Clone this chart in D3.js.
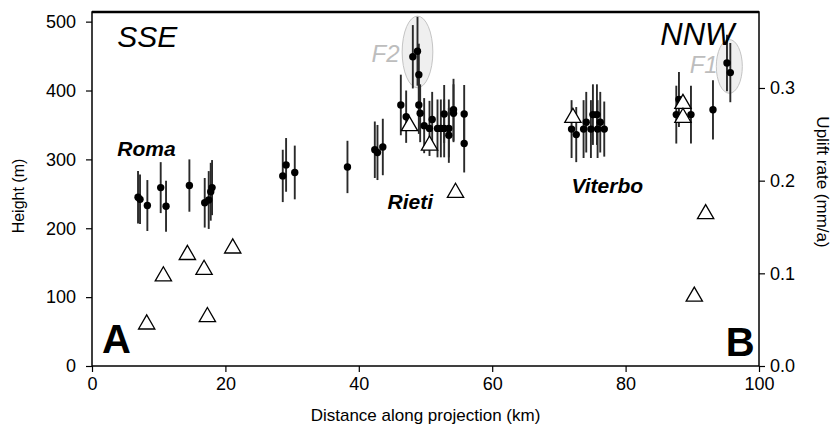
<!DOCTYPE html>
<head>
  <title>Height and uplift rate along projection</title>
  <meta charset="utf-8">
  <script src="https://cdn.jsdelivr.net/npm/d3@7"></script>
  <style>
    body { margin: 0; background: #fff; }
    text { font-family: "Liberation Sans", Arial, Helvetica, sans-serif; }
  </style>
</head>

<body>
  <script>
    // terrace heights: distance (km), height (m), half error bar (m)
    var dotKm = [6.9, 7.2, 8.3, 10.3, 11.1, 14.6, 16.9, 17.5, 17.8, 18.0,
                 28.6, 29.1, 30.4, 38.3, 42.4, 42.8, 43.6,
                 46.3, 47.1, 48.1, 48.8, 49.0, 49.0, 49.2, 49.8, 50.6, 51.0,
                 51.8, 52.3, 52.8, 53.5, 53.5, 52.8, 54.2, 54.2, 55.8, 55.8,
                 71.9, 72.6, 73.7, 74.1, 74.8, 75.1, 75.7, 75.8, 76.2, 76.8,
                 87.6, 88.0, 89.8, 93.1, 95.2, 95.7];
    var dotHeight = [245, 242, 233, 259, 232, 262, 237, 241, 253, 259,
                     276, 292, 281, 289, 314, 310, 318,
                     379, 362, 449, 457, 423, 379, 367, 349, 345, 358,
                     345, 345, 345, 345, 335, 366, 372, 367, 366, 323,
                     344, 336, 344, 354, 344, 365, 365, 344, 354, 344,
                     365, 387, 365, 372, 440, 426];
    var dotErr = [38, 36, 37, 37, 37, 38, 36, 42, 42, 40,
                  38, 39, 39, 38, 41, 40, 41,
                  44, 38, 46, 50, 45, 42, 42, 40, 40, 40,
                  42, 42, 42, 42, 40, 42, 45, 42, 42, 42,
                  42, 40, 42, 44, 42, 44, 44, 42, 44, 40,
                  42, 40, 42, 43, 41, 43];

    // uplift rates: distance (km), rate (mm/a)
    var triKm = [8.2, 10.7, 14.3, 16.8, 17.3, 21.1, 47.6, 50.6, 54.5, 72.1, 88.6, 88.6, 90.3, 92.0];
    var triRate = [0.045, 0.097, 0.120, 0.104, 0.053, 0.127, 0.259, 0.238, 0.187, 0.268, 0.283, 0.268, 0.075, 0.164];

    var xTicks = [0, 20, 40, 60, 80, 100];
    var yTicks = [0, 100, 200, 300, 400, 500];
    var rateTicks = [0, 0.1, 0.2, 0.3];

    var width = 831, height = 432;
    var margin = {top: 12, right: 72, bottom: 66, left: 92};

    var svg = d3.select("body")
      .append("svg")
      .attr("width", width)
      .attr("height", height);

    var x = d3.scaleLinear().domain([0, 100]).range([margin.left, width - margin.right]);
    var y = d3.scaleLinear().domain([0, 514]).range([height - margin.bottom, margin.top]);
    var yRate = d3.scaleLinear().domain([0, 0.382]).range([height - margin.bottom, margin.top]);

    // shaded ellipses F2 and F1
    var ellipses = [[48.8, 456, 2.3, 52], [95.55, 435, 1.95, 39]];
    svg.selectAll("ellipse")
      .data(ellipses)
      .enter()
      .append("ellipse")
      .attr("cx", function(d) { return x(d[0]); })
      .attr("cy", function(d) { return y(d[1]); })
      .attr("rx", function(d) { return x(d[2]) - x(0); })
      .attr("ry", function(d) { return y(0) - y(d[3]); })
      .attr("fill", "#efefef")
      .attr("stroke", "#c4c4c4")
      .attr("stroke-width", 1);

    // axes
    var bottom = svg.append("g").attr("transform", "translate(0," + (height - margin.bottom) + ")");
    bottom.call(d3.axisBottom(x).tickValues(d3.range(0, 101, 5)).tickFormat("").tickSize(5).tickSizeOuter(0));
    bottom.call(d3.axisBottom(x).tickValues(xTicks).tickSize(6).tickSizeOuter(0).tickPadding(5));

    var left = svg.append("g").attr("transform", "translate(" + margin.left + ",0)");
    left.call(d3.axisLeft(y).tickValues(d3.range(0, 501, 20)).tickFormat("").tickSize(5).tickSizeOuter(0));
    left.call(d3.axisLeft(y).tickValues(yTicks).tickSize(6).tickSizeOuter(0).tickPadding(10));

    var right = svg.append("g").attr("transform", "translate(" + (width - margin.right) + ",0)");
    right.call(d3.axisRight(yRate).tickValues(d3.range(0, 0.381, 0.02)).tickFormat("").tickSize(5).tickSizeOuter(0));
    right.call(d3.axisRight(yRate).tickValues(rateTicks).tickFormat(d3.format(".1f")).tickSize(6).tickSizeOuter(0).tickPadding(5));

    svg.selectAll(".tick text")
      .attr("font-size", 18)
      .attr("font-family", "Liberation Sans, Arial, sans-serif")
      .attr("fill", "#000");
    svg.selectAll(".tick line").attr("stroke", "#000").attr("stroke-width", 1.2);
    svg.selectAll(".domain").remove();

    // frame
    svg.append("rect")
      .attr("x", margin.left)
      .attr("y", margin.top)
      .attr("width", width - margin.left - margin.right)
      .attr("height", height - margin.top - margin.bottom)
      .attr("fill", "none")
      .attr("stroke", "#000")
      .attr("stroke-width", 1.5);
    svg.append("line")
      .attr("x1", margin.left).attr("x2", width - margin.right)
      .attr("y1", margin.top).attr("y2", margin.top)
      .attr("stroke", "#000").attr("stroke-width", 2.5);

    // error bars
    svg.selectAll(".err")
      .data(dotKm)
      .enter()
      .append("line")
      .attr("class", "err")
      .attr("x1", function(d) { return x(d); })
      .attr("x2", function(d) { return x(d); })
      .attr("y1", function(d, i) { return y(dotHeight[i] - dotErr[i]); })
      .attr("y2", function(d, i) { return y(dotHeight[i] + dotErr[i]); })
      .attr("stroke", "#2a2a2a")
      .attr("stroke-width", 1.9);

    svg.selectAll(".dot")
      .data(dotKm)
      .enter()
      .append("circle")
      .attr("class", "dot")
      .attr("cx", function(d) { return x(d); })
      .attr("cy", function(d, i) { return y(dotHeight[i]); })
      .attr("r", 3.7)
      .attr("fill", "#000");

    svg.selectAll(".tri")
      .data(triKm)
      .enter()
      .append("path")
      .attr("class", "tri")
      .attr("d", d3.symbol().type(d3.symbolTriangle).size(115))
      .attr("transform", function(d, i) { return "translate(" + x(d) + "," + yRate(triRate[i]) + ")"; })
      .attr("fill", "#fff")
      .attr("stroke", "#000")
      .attr("stroke-width", 1.3);

    // labels
    function label(km, m, txt, size, style, weight, color, anchor) {
      svg.append("text")
        .attr("x", x(km))
        .attr("y", y(m))
        .attr("font-size", size)
        .attr("font-style", style)
        .attr("font-weight", weight)
        .attr("fill", color)
        .attr("text-anchor", anchor || "start")
        .text(txt);
    }
    label(3.8, 463, "SSE", 30, "italic", "normal", "#000");
    label(96.3, 466, "NNW", 31, "italic", "normal", "#000", "end");
    label(41.9, 441, "F2", 24, "italic", "normal", "#bdbdbd");
    label(89.6, 425, "F1", 24, "italic", "normal", "#bdbdbd");
    label(3.8, 305, "Roma", 21, "italic", "bold", "#000");
    label(44.3, 228, "Rieti", 21, "italic", "bold", "#000");
    label(71.9, 251, "Viterbo", 21, "italic", "bold", "#000");
    label(1.5, 19, "A", 40, "normal", "bold", "#000");
    label(95, 14.5, "B", 40, "normal", "bold", "#000");

    // axis titles
    svg.append("text")
      .attr("x", x(50))
      .attr("y", 421)
      .attr("text-anchor", "middle")
      .attr("font-size", 17)
      .text("Distance along projection (km)");

    svg.append("text")
      .attr("transform", "translate(24,196) rotate(-90)")
      .attr("text-anchor", "middle")
      .attr("font-size", 16)
      .text("Height (m)");

    svg.append("text")
      .attr("transform", "translate(817,182) rotate(90)")
      .attr("text-anchor", "middle")
      .attr("font-size", 17)
      .text("Uplift rate (mm/a)");
  </script>
</body>
